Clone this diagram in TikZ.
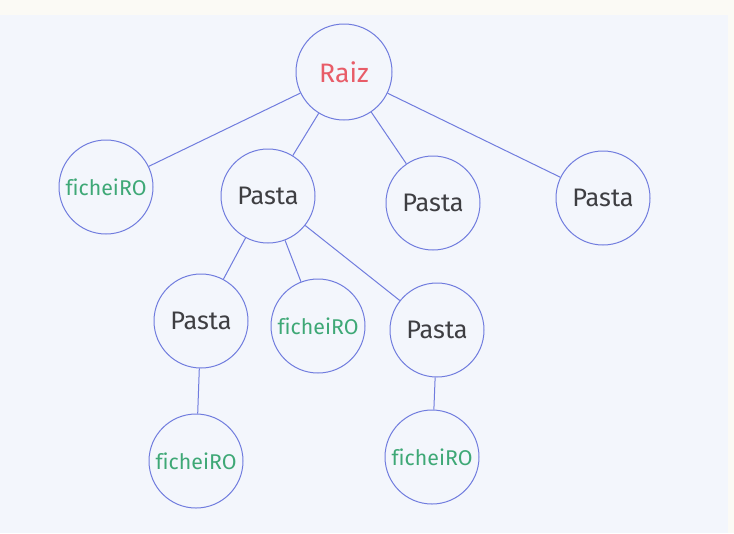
\documentclass[tikz,border=0pt]{standalone}
\usepackage{fontspec}
\setmainfont[Ligatures=NoCommon]{Fira Sans}
\definecolor{paper}{RGB}{243,246,252}
\definecolor{paperedge}{RGB}{251,250,245}
\definecolor{ink}{RGB}{112,124,222}
\definecolor{rootred}{RGB}{232,92,104}
\definecolor{filegreen}{RGB}{62,168,118}
\definecolor{foldergray}{RGB}{62,62,66}
\tikzset{every picture/.style={line width=0.75pt}}
\tikzset{
  folder/.style={circle,draw=ink,minimum size=70.5pt,inner sep=0pt,
    text=foldergray,font=\fontsize{19}{21}\selectfont},
  file/.style={folder,text=filegreen,font=\fontsize{16}{18}\selectfont},
  root/.style={folder,text=rootred,minimum size=72pt,font=\fontsize{20}{22}\selectfont},
  link/.style={draw=ink}
}
\begin{document}
\begin{tikzpicture}[x=0.75pt,y=0.75pt,yscale=-1,xscale=1]
\useasboundingbox (0,0) rectangle (734,533);
%paper
\fill [paperedge] (0,0) rectangle (734,533);
\fill [paper] (0,15) rectangle (728,533);

%Nodes
\node [root] (raiz) at (344,72) {Raiz};
\node [file] (fichA) at (106,187) {ficheiRO};
\node [folder] (pastaA) at (268,196) {Pasta};
\node [folder] (pastaB) at (433,203) {Pasta};
\node [folder] (pastaC) at (603,198) {Pasta};
\node [folder] (pastaD) at (201,321) {Pasta};
\node [file] (fichB) at (318,326) {ficheiRO};
\node [folder] (pastaE) at (437,330) {Pasta};
\node [file] (fichC) at (196,461) {ficheiRO};
\node [file] (fichD) at (432,457) {ficheiRO};

%Links
\draw [link] (raiz) -- (fichA);
\draw [link] (raiz) -- (pastaA);
\draw [link] (raiz) -- (pastaB);
\draw [link] (raiz) -- (pastaC);
\draw [link] (pastaA) -- (pastaD);
\draw [link] (pastaA) -- (fichB);
\draw [link] (pastaA) -- (pastaE);
\draw [link] (pastaD) -- (fichC);
\draw [link] (pastaE) -- (fichD);

\end{tikzpicture}
\end{document}
